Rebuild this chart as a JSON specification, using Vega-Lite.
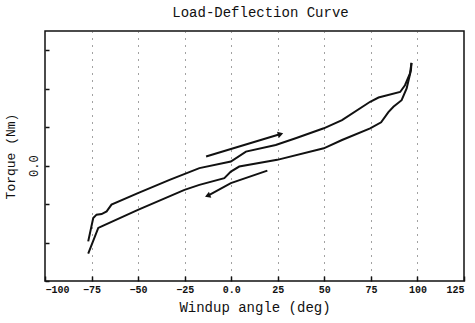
{
  "$schema": "https://vega.github.io/schema/vega-lite/v6.json",
  "autosize": "none",
  "width": 419,
  "height": 250,
  "padding": {"left": 45, "top": 31, "right": 11, "bottom": 42},
  "background": "white",
  "title": {"text": "Load-Deflection Curve", "font": "Liberation Mono", "fontSize": 14, "fontWeight": "normal", "color": "#111", "offset": 11, "anchor": "middle", "dx": 6},
  "config": {
    "view": {"stroke": "#111", "strokeWidth": 1.5},
    "axis": {"labelFont": "Liberation Mono", "titleFont": "Liberation Mono", "labelColor": "#111", "titleColor": "#111", "domain": false, "tickColor": "#111"}
  },
  "datasets": {
    "curves": [
      {"s": "upper", "o": 1, "x": -76.8, "y": -3.94},
      {"s": "upper", "o": 2, "x": -74.1, "y": -2.73},
      {"s": "upper", "o": 3, "x": -72.3, "y": -2.55},
      {"s": "upper", "o": 4, "x": -69.6, "y": -2.52},
      {"s": "upper", "o": 5, "x": -66.9, "y": -2.38},
      {"s": "upper", "o": 6, "x": -64.3, "y": -2.03},
      {"s": "upper", "o": 7, "x": -50.1, "y": -1.43},
      {"s": "upper", "o": 8, "x": -33.1, "y": -0.74},
      {"s": "upper", "o": 9, "x": -17.1, "y": -0.13},
      {"s": "upper", "o": 10, "x": -0.2, "y": 0.21},
      {"s": "upper", "o": 11, "x": 7.9, "y": 0.73},
      {"s": "upper", "o": 12, "x": 23.9, "y": 1.07},
      {"s": "upper", "o": 13, "x": 34.6, "y": 1.42},
      {"s": "upper", "o": 14, "x": 49.7, "y": 1.94},
      {"s": "upper", "o": 15, "x": 59.5, "y": 2.37},
      {"s": "upper", "o": 16, "x": 74.6, "y": 3.32},
      {"s": "upper", "o": 17, "x": 79.1, "y": 3.54},
      {"s": "upper", "o": 18, "x": 90.7, "y": 3.83},
      {"s": "upper", "o": 19, "x": 93.3, "y": 4.18},
      {"s": "upper", "o": 20, "x": 96.0, "y": 4.79},
      {"s": "upper", "o": 21, "x": 96.8, "y": 5.34},
      {"s": "lower", "o": 1, "x": -76.8, "y": -4.58},
      {"s": "lower", "o": 2, "x": -71.4, "y": -3.24},
      {"s": "lower", "o": 3, "x": -69.6, "y": -3.16},
      {"s": "lower", "o": 4, "x": -50.1, "y": -2.30},
      {"s": "lower", "o": 5, "x": -25.1, "y": -1.26},
      {"s": "lower", "o": 6, "x": -17.1, "y": -1.0},
      {"s": "lower", "o": 7, "x": -3.7, "y": -0.65},
      {"s": "lower", "o": 8, "x": -0.2, "y": -0.31},
      {"s": "lower", "o": 9, "x": 4.3, "y": -0.05},
      {"s": "lower", "o": 10, "x": 24.7, "y": 0.30},
      {"s": "lower", "o": 11, "x": 49.7, "y": 0.90},
      {"s": "lower", "o": 12, "x": 59.5, "y": 1.33},
      {"s": "lower", "o": 13, "x": 74.6, "y": 1.94},
      {"s": "lower", "o": 14, "x": 80.5, "y": 2.25},
      {"s": "lower", "o": 15, "x": 84.4, "y": 2.78},
      {"s": "lower", "o": 16, "x": 87.1, "y": 3.06},
      {"s": "lower", "o": 17, "x": 91.5, "y": 3.40},
      {"s": "lower", "o": 18, "x": 94.2, "y": 4.01},
      {"s": "lower", "o": 19, "x": 96.5, "y": 4.96},
      {"s": "lower", "o": 20, "x": 96.8, "y": 5.34},
      {"s": "arrowUp", "o": 1, "x": -13.5, "y": 0.47},
      {"s": "arrowUp", "o": 2, "x": 26.5, "y": 1.64},
      {"s": "arrowDown", "o": 1, "x": 19.4, "y": -0.26},
      {"s": "arrowDown", "o": 2, "x": -0.2, "y": -0.91},
      {"s": "arrowDown", "o": 3, "x": -12.7, "y": -1.57}
    ],
    "heads": [
      {"x": 26.5, "y": 1.64, "shape": "triangle-right", "angle": -17},
      {"x": -12.7, "y": -1.57, "shape": "triangle-left", "angle": -22}
    ]
  },
  "layer": [
    {
      "data": {"name": "curves"},
      "mark": {"type": "line", "color": "#111", "strokeWidth": 2, "clip": true},
      "encoding": {
        "x": {
          "field": "x", "type": "quantitative",
          "scale": {"domain": [-100, 125], "nice": false, "zero": false},
          "axis": {
            "title": "Windup angle (deg)",
            "titleFontSize": 14, "titleFontWeight": "normal", "titlePadding": 6,
            "values": [-100, -87.5, -75, -62.5, -50, -37.5, -25, -12.5, 0, 12.5, 25, 37.5, 50, 62.5, 75, 87.5, 100, 112.5, 125],
            "labelExpr": "datum.value % 25 != 0 ? '' : (datum.value == 0 ? '0.0' : datum.label)",
            "labelFontSize": 10, "labelFontWeight": "bold", "labelPadding": 8,
            "tickSize": {"condition": {"test": "datum.value % 25 != 0", "value": -2}, "value": -5},
            "tickWidth": 1.5,
            "grid": true,
            "gridDash": [1, 6],
            "gridColor": "#444",
            "gridWidth": 1,
            "gridOpacity": {"condition": {"test": "datum.value % 25 != 0 || datum.value == -100 || datum.value == 125", "value": 0}, "value": 1}
          }
        },
        "y": {
          "field": "y", "type": "quantitative",
          "scale": {"domain": [-6, 7], "nice": false, "zero": false},
          "axis": {
            "title": "Torque (Nm)",
            "titleFontSize": 13, "titleFontWeight": "normal", "titlePadding": 10,
            "values": [-6, -5, -4, -3, -2, -1, 0, 1, 2, 3, 4, 5, 6, 7],
            "labelExpr": "datum.value == 0 ? '0.0' : ''",
            "labelAngle": -90, "labelAlign": "center", "labelBaseline": "bottom",
            "labelFontSize": 12, "labelPadding": 9,
            "tickSize": -4, "tickWidth": 1.5,
            "grid": false
          }
        },
        "detail": {"field": "s"},
        "order": {"field": "o", "type": "quantitative"}
      }
    },
    {
      "data": {"name": "heads"},
      "mark": {"type": "point", "filled": true, "color": "#111", "size": 40, "opacity": 1},
      "encoding": {
        "x": {"field": "x", "type": "quantitative"},
        "y": {"field": "y", "type": "quantitative"},
        "shape": {"field": "shape", "type": "nominal", "scale": null, "legend": null},
        "angle": {"field": "angle", "type": "quantitative", "scale": null}
      }
    }
  ]
}
